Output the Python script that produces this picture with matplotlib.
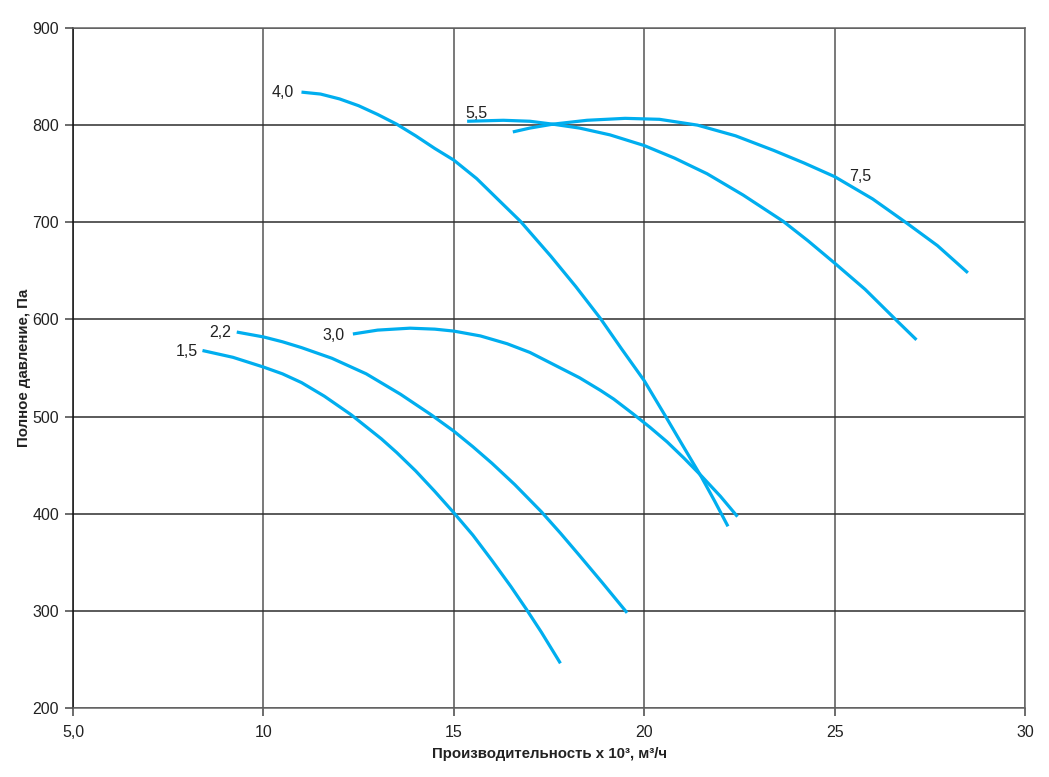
import matplotlib
matplotlib.use('Agg')
import matplotlib.pyplot as plt

plt.rcParams['font.family'] = ['Liberation Sans', 'DejaVu Sans']

# Fan curves: flow (x 10^3 m3/h) vs total pressure (Pa)
c15_x = [8.4, 9.2, 10.0, 10.5, 11.0, 11.6, 12.3, 13.1, 13.5, 14.0, 14.5, 15.0,
         15.5, 16.0, 16.5, 16.9, 17.3, 17.8]
c15_y = [568, 561, 551, 544, 535, 521, 502, 477, 463, 444, 423, 401,
         378, 352, 325, 302, 278, 246]

c22_x = [9.3, 10.0, 10.5, 11.0, 11.8, 12.7, 13.6, 14.4, 15.0, 15.5, 16.0, 16.6,
         17.3, 17.8, 18.3, 18.9, 19.55]
c22_y = [587, 582, 577, 571, 560, 544, 523, 502, 485, 469, 452, 430,
         402, 380, 357, 329, 298]

c30_x = [12.35, 13.0, 13.85, 14.5, 15.0, 15.7, 16.4, 17.0, 17.7, 18.3, 18.85,
         19.2, 19.7, 20.15, 20.6, 21.05, 21.5, 22.0, 22.45]
c30_y = [585, 589, 591, 590, 588, 583, 575, 566, 552, 540, 527,
         518, 503, 489, 474, 457, 439, 418, 397]

c40_x = [11.0, 11.5, 12.0, 12.5, 13.0, 13.5, 14.0, 14.5, 15.0, 15.6, 16.2, 16.75,
         17.55, 18.2, 18.85, 19.4, 20.0, 20.55, 21.0, 21.5, 21.85, 22.2]
c40_y = [834, 832, 827, 820, 811, 801, 789, 776, 764, 745, 722, 701,
         665, 634, 601, 570, 537, 501, 471, 438, 413, 387]

c55_x = [15.35, 16.3, 17.0, 17.6, 18.3, 19.1, 20.0, 20.8, 21.65, 22.6, 23.65,
         24.3, 25.0, 25.8, 26.6, 27.15]
c55_y = [804, 805, 804, 801, 797, 790, 779, 766, 750, 728, 701,
         681, 658, 631, 600, 579]

c75_x = [16.55, 17.0, 17.6, 18.5, 19.5, 20.4, 21.4, 22.4, 23.4, 24.2, 25.0,
         26.0, 26.9, 27.7, 28.5]
c75_y = [793, 797, 801, 805, 807, 806, 800, 789, 774, 761, 747,
         724, 699, 676, 648]

curves = [
    ('1,5', c15_x, c15_y, (7.99, 567)),
    ('2,2', c22_x, c22_y, (8.86, 587)),
    ('3,0', c30_x, c30_y, (11.84, 583)),
    ('4,0', c40_x, c40_y, (10.5, 834)),
    ('5,5', c55_x, c55_y, (15.6, 812)),
    ('7,5', c75_x, c75_y, (25.67, 747)),
]

x_ticks = [5, 10, 15, 20, 25, 30]
x_tick_labels = ['5,0', '10', '15', '20', '25', '30']
y_ticks = [200, 300, 400, 500, 600, 700, 800, 900]

line_color = '#00aeef'

fig = plt.figure(figsize=(10.49, 7.77), dpi=100)
ax = fig.add_axes([73 / 1049, 69 / 777, 952 / 1049, 680 / 777])

for name, xs, ys, pos in curves:
    ax.plot(xs, ys, color=line_color, linewidth=2.3, solid_capstyle='butt',
            solid_joinstyle='round', zorder=3)
    ax.text(pos[0], pos[1], name, ha='center', va='center', fontsize=11.5, color='#222222')

ax.set_xlim(5, 30)
ax.set_ylim(200, 900)
ax.set_xticks(x_ticks)
ax.set_xticklabels(x_tick_labels)
ax.set_yticks(y_ticks)

ax.xaxis.grid(True, color='#555555', linewidth=1.1)
ax.yaxis.grid(True, color='#2e2e2e', linewidth=1.1)
ax.set_axisbelow(True)

for side in ['top', 'right', 'bottom']:
    ax.spines[side].set_color('#666666')
    ax.spines[side].set_linewidth(1.1)
ax.spines['left'].set_color('#111111')
ax.spines['left'].set_linewidth(1.1)

ax.tick_params(axis='both', direction='out', length=6, width=1.1, color='#444444',
               labelsize=11.5, labelcolor='#222222')
ax.tick_params(axis='x', pad=6)
ax.tick_params(axis='y', pad=4)

ax.set_xlabel('Производительность x 10³, м³/ч', fontsize=10.8, fontweight='bold',
              color='#222222', labelpad=5)
ax.set_ylabel('Полное давление, Па', fontsize=10.8, fontweight='bold',
              color='#222222', labelpad=1)

fig.savefig('out.png', dpi=100)
